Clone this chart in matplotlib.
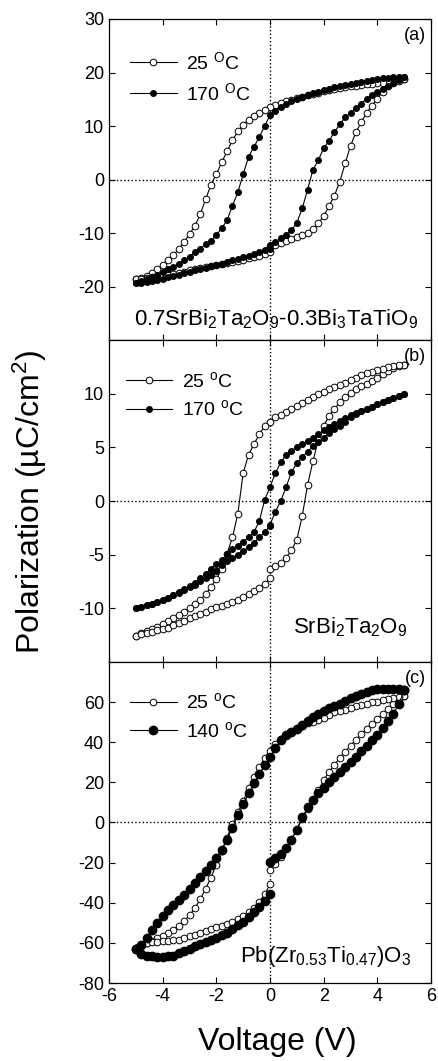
import matplotlib
matplotlib.use("Agg")
import matplotlib.pyplot as plt

plt.rcParams['font.family'] = ['Liberation Sans', 'DejaVu Sans']
plt.rcParams['mathtext.fontset'] = 'custom'
plt.rcParams['mathtext.rm'] = 'Liberation Sans'
plt.rcParams['mathtext.default'] = 'regular'
plt.rcParams['axes.unicode_minus'] = False

# 电压扫描点 (V), 步长 0.2 V
V_STEPS = [-5.0, -4.8, -4.6, -4.4, -4.2, -4.0, -3.8, -3.6, -3.4, -3.2,
           -3.0, -2.8, -2.6, -2.4, -2.2, -2.0, -1.8, -1.6, -1.4, -1.2,
           -1.0, -0.8, -0.6, -0.4, -0.2, 0.0, 0.2, 0.4, 0.6, 0.8,
           1.0, 1.2, 1.4, 1.6, 1.8, 2.0, 2.2, 2.4, 2.6, 2.8,
           3.0, 3.2, 3.4, 3.6, 3.8, 4.0, 4.2, 4.4, 4.6, 4.8, 5.0]
v_rise = V_STEPS[25:]      # 0 -> +5
v_fall = V_STEPS[::-1]     # +5 -> -5
v_ret = V_STEPS[:26]       # -5 -> 0

# (a) 0.7SBT-0.3BTT
a25_rise = [-12.4, -12.2, -11.9, -11.5, -11.2, -10.8, -10.4, -10.0, -9.2, -8.2, -6.8, -5.0, -3.0,
            -0.4, 3.0, 6.3, 8.8, 10.7, 12.5, 13.8, 15.1, 16.4, 17.4, 18.1, 18.6, 18.8]
a25_fall = [18.8, 18.5, 18.3, 18.2, 18.1, 18.0, 17.9, 17.8, 17.7, 17.5, 17.4, 17.3, 17.1, 16.9,
            16.7, 16.5, 16.2, 16.0, 15.8, 15.5, 15.2, 14.9, 14.6, 14.3, 13.9, 13.5, 13.0, 12.5,
            11.9, 11.2, 10.2, 9.0, 7.3, 5.3, 3.2, 1.0, -1.0, -3.7, -6.5, -8.7, -10.2, -11.7,
            -13.0, -14.1, -15.1, -16.0, -16.8, -17.5, -18.0, -18.4, -18.6]
a25_ret = [-18.6, -18.5, -18.4, -18.2, -18.1, -17.9, -17.8, -17.6, -17.4, -17.2, -17.0, -16.8, -16.6,
           -16.4, -16.2, -16.0, -15.8, -15.6, -15.4, -15.2, -15.0, -14.7, -14.5, -14.2, -13.9, -13.6]
a170_rise = [-12.3, -11.6, -11.0, -10.3, -9.5, -8.1, -5.4, -1.9, 1.8, 3.6, 5.9, 7.2, 8.9,
             10.3, 11.6, 12.5, 13.3, 14.2, 15.1, 15.8, 16.4, 16.9, 17.4, 18.0, 18.6, 19.2]
a170_fall = [19.2, 19.2, 19.1, 19.0, 18.9, 18.8, 18.6, 18.5, 18.3, 18.1, 17.9, 17.7, 17.5, 17.2,
             17.0, 16.7, 16.4, 16.1, 15.8, 15.4, 15.0, 14.6, 14.1, 13.5, 12.8, 12.0, 10.0, 7.9,
             6.1, 4.2, 1.0, -2.4, -4.9, -7.6, -9.1, -10.4, -11.4, -12.1, -12.9, -13.6, -14.4, -15.1,
             -15.7, -16.3, -16.8, -17.3, -17.8, -18.2, -18.6, -19.0, -19.3]
a170_ret = [-19.3, -19.3, -19.1, -18.9, -18.7, -18.5, -18.3, -18.0, -17.8, -17.5, -17.3, -17.0, -16.8,
            -16.5, -16.2, -16.0, -15.7, -15.4, -15.1, -14.8, -14.5, -14.2, -13.9, -13.6, -13.2, -12.9]

# (b) SBT
b25_rise = [-6.3, -6.1, -5.8, -5.3, -4.6, -3.6, -1.4, 1.5, 3.7, 5.7, 7.0, 7.9, 8.6,
            9.2, 9.7, 10.1, 10.4, 10.7, 10.9, 11.2, 11.5, 11.8, 12.1, 12.4, 12.6, 12.7]
b25_fall = [12.7, 12.7, 12.6, 12.5, 12.3, 12.2, 12.0, 11.9, 11.7, 11.5, 11.3, 11.0, 10.8, 10.6,
            10.4, 10.2, 10.0, 9.7, 9.4, 9.1, 8.9, 8.6, 8.3, 8.0, 7.8, 7.4, 7.0, 6.2,
            5.3, 4.3, 2.6, -1.2, -3.4, -4.9, -6.3, -7.3, -8.0, -8.7, -9.2, -9.6, -10.0, -10.3,
            -10.6, -10.9, -11.2, -11.5, -11.7, -11.9, -12.1, -12.3, -12.6]
b25_ret = [-12.6, -12.4, -12.3, -12.2, -12.0, -11.9, -11.8, -11.6, -11.4, -11.2, -10.9, -10.7, -10.5,
           -10.3, -10.1, -9.9, -9.8, -9.6, -9.4, -9.2, -8.9, -8.7, -8.4, -8.1, -7.7, -7.2]
b170_rise = [-2.2, -1.0, 0.0, 1.3, 2.7, 3.5, 4.1, 4.6, 5.1, 5.5, 5.9, 6.3, 6.7,
             7.0, 7.4, 7.8, 8.1, 8.4, 8.6, 8.8, 9.0, 9.2, 9.4, 9.6, 9.8, 10.0]
b170_fall = [10.0, 9.8, 9.6, 9.4, 9.2, 9.0, 8.8, 8.6, 8.4, 8.2, 8.0, 7.7, 7.5, 7.2,
             6.9, 6.6, 6.2, 5.9, 5.6, 5.3, 5.0, 4.7, 4.3, 3.6, 2.6, 1.3, 0.1, -1.9,
             -2.9, -3.4, -3.8, -4.2, -4.5, -4.9, -5.5, -5.9, -6.3, -6.8, -7.2, -7.6, -7.9, -8.2,
             -8.5, -8.8, -9.0, -9.2, -9.4, -9.6, -9.7, -9.9, -10.0]
b170_ret = [-10.0, -9.9, -9.7, -9.6, -9.4, -9.2, -9.0, -8.8, -8.6, -8.3, -8.0, -7.8, -7.5,
            -7.2, -6.9, -6.5, -6.0, -5.6, -5.3, -5.0, -4.7, -4.3, -3.9, -3.4, -2.9, -2.3]

# (c) PZT
c25_rise = [-23.8, -20.5, -17.3, -12.8, -8.5, -3.5, 1.8, 6.5, 11.2, 16.0, 21.0, 25.3, 28.5,
            32.2, 35.0, 38.3, 41.3, 44.0, 46.7, 49.3, 51.5, 54.0, 56.5, 59.0, 61.3, 63.0]
c25_fall = [63.0, 62.5, 62.0, 61.4, 60.8, 60.2, 59.8, 59.2, 58.6, 58.0, 57.3, 56.2, 55.4, 55.0,
            53.5, 52.0, 51.2, 50.3, 49.4, 48.2, 46.8, 45.3, 43.8, 41.8, 39.3, 35.8, 32.2, 27.5,
            22.8, 17.0, 10.5, 5.0, -0.8, -7.5, -14.3, -21.0, -27.5, -33.0, -38.3, -42.7, -46.2, -49.2,
            -51.5, -53.5, -55.2, -56.6, -57.8, -59.0, -60.0, -61.2, -62.5]
c25_ret = [-62.5, -61.0, -60.3, -59.8, -59.5, -59.3, -59.1, -58.8, -58.4, -57.7, -56.8, -55.9, -55.0,
           -54.1, -53.2, -52.3, -51.4, -50.5, -49.5, -48.2, -46.6, -44.8, -42.4, -39.5, -35.8, -30.8]
c140_rise = [-19.5, -17.8, -15.5, -12.8, -8.5, -3.5, 2.5, 7.5, 11.3, 14.5, 17.3, 20.0, 22.8,
             25.3, 27.8, 30.3, 32.8, 35.5, 38.3, 41.0, 43.8, 47.2, 50.8, 54.3, 59.0, 65.8]
c140_fall = [65.8, 66.3, 66.5, 66.6, 66.7, 66.5, 66.0, 65.0, 64.0, 63.0, 62.0, 60.5, 59.0, 58.0,
             57.0, 55.8, 54.2, 52.5, 50.5, 48.5, 46.5, 45.0, 43.5, 41.0, 37.0, 32.5, 28.5, 24.0,
             19.5, 14.5, 9.0, 3.5, -2.5, -8.5, -13.5, -17.5, -21.0, -24.0, -27.0, -30.0, -33.0, -36.0,
             -38.5, -41.0, -43.5, -46.5, -50.0, -53.5, -57.5, -61.0, -63.0]
c140_ret = [-63.0, -65.5, -66.3, -66.7, -66.8, -66.8, -66.7, -66.3, -65.2, -64.0, -62.8, -61.7, -60.6,
            -59.5, -58.4, -57.4, -56.3, -55.0, -53.3, -51.3, -49.5, -47.3, -44.8, -42.2, -39.2, -35.5]


def loop(rise, fall, ret):
    return v_rise + v_fall + v_ret, rise + fall + ret


panels = [
    dict(tag="(a)", cold=(a25_rise, a25_fall, a25_ret), hot=(a170_rise, a170_fall, a170_ret),
         labels=["25 $^{O}$C", "170 $^{O}$C"], ylim=(-30, 30), yticks=[-20, -10, 0, 10, 20, 30],
         formula="0.7SrBi$_2$Ta$_2$O$_9$-0.3Bi$_3$TaTiO$_9$", fx=0.52, fy=0.045,
         leg=(0.065, 0.90), hot_ms=4.0),
    dict(tag="(b)", cold=(b25_rise, b25_fall, b25_ret), hot=(b170_rise, b170_fall, b170_ret),
         labels=["25 $^{o}$C", "170 $^{o}$C"], ylim=(-15, 15), yticks=[-10, -5, 0, 5, 10],
         formula="SrBi$_2$Ta$_2$O$_9$", fx=0.75, fy=0.09,
         leg=(0.052, 0.905), hot_ms=4.0),
    dict(tag="(c)", cold=(c25_rise, c25_fall, c25_ret), hot=(c140_rise, c140_fall, c140_ret),
         labels=["25 $^{o}$C", "140 $^{o}$C"], ylim=(-80, 80), yticks=[-80, -60, -40, -20, 0, 20, 40, 60],
         formula="Pb(Zr$_{0.53}$Ti$_{0.47}$)O$_3$", fx=0.673, fy=0.065,
         leg=(0.065, 0.905), hot_ms=6.0),
]

fig = plt.figure(figsize=(4.39, 10.61), dpi=100)
left, width = 0.2483, 0.7335
bottoms = [0.6795, 0.3761, 0.0735]
heights = [0.3026, 0.3034, 0.3026]

for i, p in enumerate(panels):
    ax = fig.add_axes([left, bottoms[i], width, heights[i]])
    ax.axvline(0, color="black", linestyle=":", linewidth=1.0, zorder=1)
    ax.axhline(0, color="black", linestyle=":", linewidth=1.0, zorder=1)
    x, y = loop(*p["cold"])
    ax.plot(x, y, color="black", linewidth=0.8, marker="o", markersize=4.8,
            markerfacecolor="white", markeredgecolor="black", markeredgewidth=0.7,
            label=p["labels"][0], zorder=3)
    x, y = loop(*p["hot"])
    ax.plot(x, y, color="black", linewidth=0.8, marker="o", markersize=p["hot_ms"],
            markerfacecolor="black", markeredgecolor="black",
            label=p["labels"][1], zorder=4)
    ax.set_xlim(-6, 6)
    ax.set_ylim(*p["ylim"])
    ax.set_xticks([-6, -4, -2, 0, 2, 4, 6])
    ax.set_yticks(p["yticks"])
    ax.tick_params(direction="in", top=True, right=True, length=4, width=0.8, labelsize=13)
    if i < 2:
        ax.tick_params(labelbottom=False)
    for s in ax.spines.values():
        s.set_linewidth(0.9)
    ax.text(0.985, 0.975, p["tag"], transform=ax.transAxes, ha="right", va="top", fontsize=13)
    ax.text(p["fx"], p["fy"], p["formula"], transform=ax.transAxes, ha="center", va="baseline",
            fontsize=16)
    ax.legend(loc="upper left", bbox_to_anchor=p["leg"], frameon=False, fontsize=14,
              borderpad=0, borderaxespad=0, handlelength=2.4, handletextpad=0.5,
              labelspacing=0.45, numpoints=1)

fig.text(0.068, 0.527, "Polarization (\u00b5C/cm$^2$)", rotation=90, ha="center", va="center",
         fontsize=23)
fig.text(0.631, 0.018, "Voltage (V)", ha="center", va="center", fontsize=23)

fig.savefig("out.png", dpi=100)
